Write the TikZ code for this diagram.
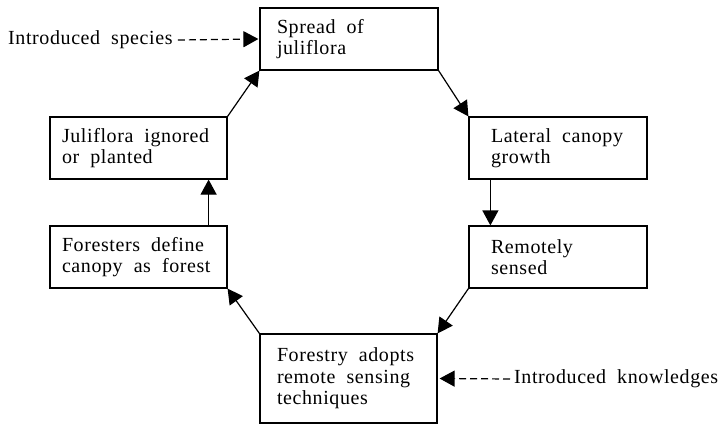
\documentclass[tikz,border=0pt]{standalone}
\usepackage{fontspec}
\setmainfont{Liberation Serif}[LetterSpace=3]
\usepackage{tikz}
\usetikzlibrary{arrows.meta,positioning}
\newcommand{\stagefont}{\fontsize{20}{21.5}\selectfont\spaceskip=11pt plus 2pt minus 1pt\relax}
\tikzset{stagebox/.style 2 args={draw,rectangle,line width=1.2pt,minimum height=62pt,align=left,inner xsep=#1,text width=#2,
        execute at begin node={\spaceskip=11pt plus 2pt minus 1pt\relax}},
    loopedge/.style={-{Triangle[length=15pt,width=16pt]},line width=1.2pt},
    introedge/.style={-{Triangle[length=15pt,width=16pt]},line width=1.2pt,dash pattern=on 7pt off 4pt},
    introtext/.style={inner sep=0pt}
}

\begin{document}
\begin{tikzpicture}[x=1pt,y=-1pt,font=\stagefont]

\useasboundingbox (0,0) rectangle (724,424);

\node (spread) at (349,39) [stagebox={17pt}{144pt}] {Spread of\\juliflora};
\node (lateral) at (558,148) [stagebox={22pt}{134pt}] {Lateral canopy\\growth};
\node (remote) at (558,257) [stagebox={22pt}{134pt}] {Remotely\\sensed};
\node (adopt) at (348.5,378.5) [stagebox={17pt}{143pt},minimum height=89pt] {Forestry adopts\\remote sensing\\techniques};
\node (define) at (138.5,257) [stagebox={12pt}{153pt}] {Foresters define\\canopy as forest};
\node (ignored) at (138.5,148) [stagebox={12pt}{153pt}] {Juliflora ignored\\or planted};

\node (species) [introtext,anchor=west] at (8,40) {Introduced species};
\node (knowledge) [introtext,anchor=west] at (514,379) {Introduced knowledges};

\draw [loopedge] (spread.south east) -- (lateral.north west);
\draw [loopedge] ([xshift=22pt]lateral.south west) -- ([xshift=22pt]remote.north west);
\draw [loopedge] (remote.south west) -- (adopt.north east);
\draw [loopedge] (adopt.north west) -- (define.south east);
\draw [loopedge] ([xshift=-19pt]define.north east) -- ([xshift=-19pt]ignored.south east);
\draw [loopedge] (ignored.north east) -- (spread.south west);

% outside influences
\draw [introedge] ([xshift=5pt]species.east) -- ([xshift=-1pt]spread.west);
\draw [introedge] ([xshift=-4pt]knowledge.west) -- ([xshift=2pt]adopt.east);

\end{tikzpicture}
\end{document}
